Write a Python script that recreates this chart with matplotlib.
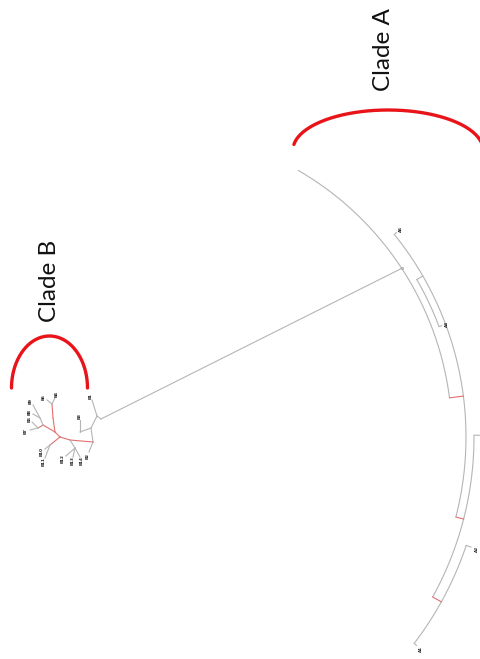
import numpy as np
import matplotlib.pyplot as plt

# centre of the circular layout used for clade A (pixel units, y grows down)
cx, cy = 144, 437

# clade A: branch arcs at constant radius (degrees, counter-clockwise)
arc_r = [308, 322, 330, 340, 315]
arc_from = [60.0, 39.0, 0.3, -18.6, 30.0]
arc_to = [7.3, -14.4, -29.0, -37.4, 20.5]

# clade A: radial connectors between nested arcs
rad_theta = [7.3, -14.4, -29.0, 30.0]
rad_r0 = [308, 322, 330, 315]
rad_r1 = [322, 330, 340, 322]
rad_red = [True, True, True, False]

# clade A: terminal branches and their labels (the third one runs off the page)
tipA_theta = [39.0, 20.5, 0.3, -18.6, -37.4]
tipA_r = [322, 315, 330, 340, 340]
tipA_len = [3, 3, 22, 5, 3]
tipA_label = ["A5", "A4", "", "A2", "A1"]

# join between the two clades: root of B -> node on the outer arc of A
root_theta = 33.2
root_r = 308

# clade B: small tree, node positions and parents
b_x = [101, 97, 92, 91, 93, 89, 80, 80, 70, 60, 55, 53, 52, 55, 47, 43, 38,
       32, 30, 40, 33, 33, 50, 45, 45, 75, 66, 73, 80]
b_y = [419, 416, 400, 428, 442, 452, 432, 420, 440, 437, 432, 418, 404, 398,
       400, 425, 428, 422, 430, 418, 414, 405, 445, 449, 458, 448, 456, 457,
       457]
b_parent = [-1, 0, 1, 1, 3, 4, 3, 6, 4, 8, 9, 10, 11, 12, 12, 10, 15, 16, 16,
            15, 19, 19, 9, 22, 22, 8, 25, 25, 25]
b_red = [False, False, False, False, False, False, False, False, True, True,
         True, True, True, False, False, True, True, False, False, False,
         False, False, True, False, False, False, False, False, False]

GREY = "#b5b5b5"
PINK = "#e27070"
RED = "#e8141a"


def polar(r, theta):
    t = np.radians(theta)
    return cx + r * np.cos(t), cy - r * np.sin(t)


fig = plt.figure(figsize=(4.8, 6.59), dpi=100)
ax = fig.add_axes([0, 0, 1, 1])
ax.set_xlim(0, 480)
ax.set_ylim(659, 0)
ax.axis("off")

# clade A arcs
for r, a0, a1 in zip(arc_r, arc_from, arc_to):
    th = np.linspace(a0, a1, 200)
    x, y = polar(r, th)
    ax.plot(x, y, color=GREY, lw=0.8, solid_capstyle="butt")

for th, r0, r1, red in zip(rad_theta, rad_r0, rad_r1, rad_red):
    x, y = polar(np.array([r0, r1]), th)
    ax.plot(x, y, color=PINK if red else GREY, lw=0.8)

for th, r, ln, lab in zip(tipA_theta, tipA_r, tipA_len, tipA_label):
    x, y = polar(np.array([r, r + ln]), th)
    ax.plot(x, y, color=GREY, lw=0.8)
    if lab:
        lx, ly = polar(r + ln + 6, th)
        ax.text(lx, ly, lab, fontsize=3, fontweight="bold", color="#222222",
                rotation=90, ha="center", va="center")

# long branch linking the clades
nx, ny = polar(root_r, root_theta)
ax.plot([b_x[0], nx], [b_y[0], ny], color=GREY, lw=0.8)
ax.plot(nx, ny, marker="o", ms=1.5, mfc="none", mec="#999999", mew=0.5)

# clade B
children = {i: [] for i in range(len(b_x))}
for i, p in enumerate(b_parent):
    if p >= 0:
        children[p].append(i)
        ax.plot([b_x[p], b_x[i]], [b_y[p], b_y[i]],
                color=PINK if b_red[i] else GREY, lw=0.8)

k = 1
for i in range(len(b_x)):
    if children[i]:
        continue
    p = b_parent[i]
    dx, dy = b_x[i] - b_x[p], b_y[i] - b_y[p]
    d = np.hypot(dx, dy)
    lx, ly = b_x[i] + 4 * dx / d, b_y[i] + 4 * dy / d
    ax.text(lx, ly, f"B{k}", fontsize=3, fontweight="bold", color="#222222",
            rotation=90, ha="center", va="center")
    k += 1

# clade brackets
t = np.radians(np.linspace(8, 172, 200))
ax.plot(388 + 95 * np.cos(t), 150 - 40 * np.sin(t), color=RED, lw=2.4,
        solid_capstyle="round")
t = np.radians(np.linspace(0, 180, 200))
ax.plot(49.5 + 38 * np.cos(t), 388 - 52 * np.sin(t), color=RED, lw=2.4,
        solid_capstyle="round")

ax.text(383, 50, "Clade A", rotation=90, fontsize=17.5, family="Lato",
        ha="center", va="center", color="#111111")
ax.text(49, 281, "Clade B", rotation=90, fontsize=17.5, family="Lato",
        ha="center", va="center", color="#111111")

fig.savefig("out.png", dpi=100)
